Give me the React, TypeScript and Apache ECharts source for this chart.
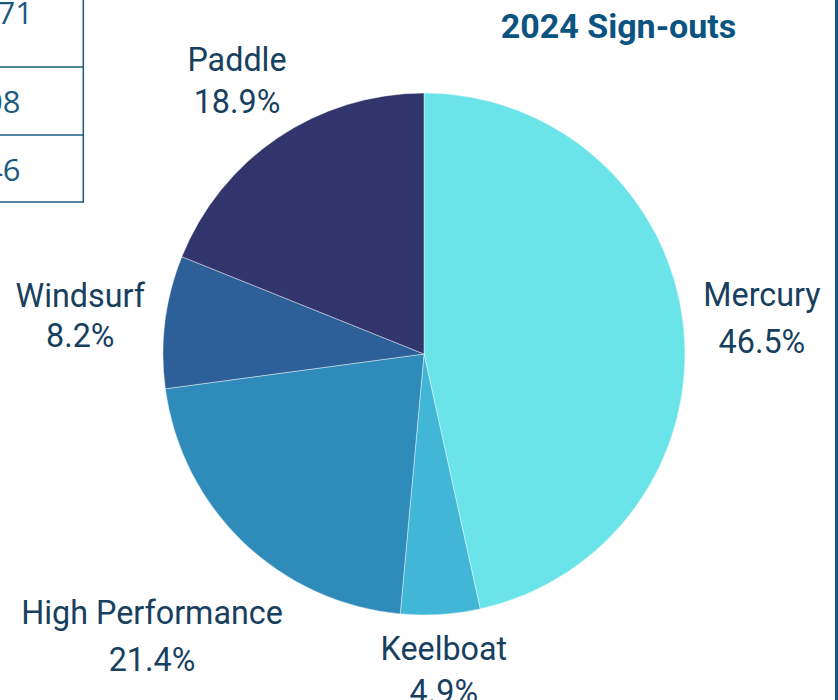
import React, { useEffect, useRef } from "react";
import * as echarts from "echarts";

const categories = ["Mercury", "Keelboat", "High Performance", "Windsurf", "Paddle"];
const shares = [46.5, 4.9, 21.4, 8.2, 18.9];
const sliceColors = ["#6ae4e8", "#41b6d6", "#2e8bba", "#2d5f98", "#32356b"];
const labelLineHeights = [47, 43, 47, 40, 42];
const tableTexts = ["71", "08", "46"];

const CX = 424;
const CY = 354;
const R = 261;

export default function App() {
  const ref = useRef<HTMLDivElement>(null);
  useEffect(() => {
    if (!ref.current) return;
    const chart = echarts.init(ref.current, undefined, { renderer: "svg" });
    const total = shares.reduce((a, b) => a + b, 0);
    const midAngle = (i: number) => {
      let cum = 0;
      for (let k = 0; k < i; k++) cum += shares[k];
      return ((cum + shares[i] / 2) / total) * Math.PI * 2;
    };
    const tableColor = "#1b5a7e";
    chart.setOption({
      animation: false,
      backgroundColor: "#ffffff",
      graphic: [
        {
          type: "text",
          x: 618.5,
          y: 26,
          style: {
            text: "2024 Sign-outs",
            fontSize: 34,
            fontWeight: "bold",
            fontFamily: "Roboto",
            fill: "#0b5481",
            align: "center",
            verticalAlign: "middle",
          },
        },
        { type: "rect", shape: { x: 835, y: 0, width: 3, height: 700 }, style: { fill: "#0b5a85" } },
        { type: "line", shape: { x1: 83.3, y1: 0, x2: 83.3, y2: 202.5 }, style: { stroke: tableColor, lineWidth: 1.5 } },
        { type: "line", shape: { x1: 0, y1: 67, x2: 84, y2: 67 }, style: { stroke: tableColor, lineWidth: 1.5 } },
        { type: "line", shape: { x1: 0, y1: 135, x2: 84, y2: 135 }, style: { stroke: tableColor, lineWidth: 1.5 } },
        { type: "line", shape: { x1: 0, y1: 202, x2: 84, y2: 202 }, style: { stroke: tableColor, lineWidth: 1.5 } },
        ...tableTexts.map((t, i) => ({
          type: "text",
          x: i === 0 ? 33 : 20.5,
          y: i === 0 ? 12 : 101 + (i - 1) * 68,
          style: {
            text: t,
            fontSize: 31,
            fontFamily: "Open Sans",
            fill: tableColor,
            align: "right",
            verticalAlign: "middle",
          },
        })),
      ],
      series: [
        {
          type: "pie",
          center: [CX, CY],
          radius: R,
          startAngle: 90,
          clockwise: true,
          avoidLabelOverlap: false,
          data: categories.map((name, i) => ({
            name,
            value: shares[i],
            itemStyle: { color: sliceColors[i] },
            label: { lineHeight: labelLineHeights[i] },
          })),
          itemStyle: { borderColor: "rgba(255,255,255,0.7)", borderWidth: 0.6 },
          label: {
            show: true,
            position: "outside",
            formatter: (p: any) => `${p.name}\n${p.value.toFixed(1)}%`,
            fontSize: 32.3,
            lineHeight: 47,
            fontFamily: "Roboto",
            color: "#17405f",
          },
          labelLine: { show: false },
          labelLayout: (params: any) => {
            const i = params.dataIndex;
            const a = midAngle(i);
            const dx = Math.sin(a);
            const dy = -Math.cos(a);
            const w = params.labelRect.width;
            const dist = R + 17 + (w / 2) * Math.abs(dx) + 34 * Math.abs(dy);
            return {
              x: CX + dx * dist,
              y: CY + dy * dist + (47 - labelLineHeights[i]) / 2 + (dy < 0 ? 1 : -1),
              align: "center",
              verticalAlign: "middle",
            };
          },
          emphasis: { disabled: true },
        },
      ],
    });
    return () => chart.dispose();
  }, []);
  return (
    <div
      ref={ref}
      style={{ position: "absolute", left: 0, top: 0, width: 838, height: 700 }}
    />
  );
}
